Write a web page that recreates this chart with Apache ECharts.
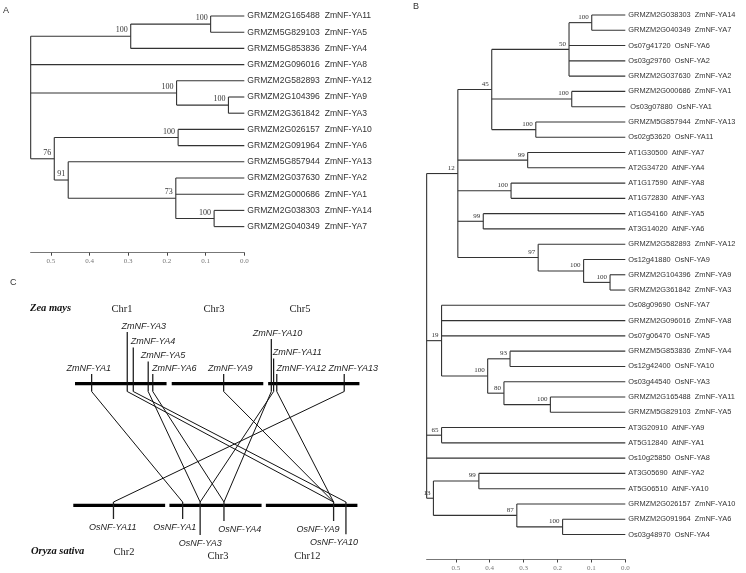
<!DOCTYPE html>
<html><head><meta charset="utf-8">
<script src="https://cdn.jsdelivr.net/npm/echarts@6/dist/echarts.min.js"></script>
<style>html,body{margin:0;padding:0;background:#fff}#c{width:746px;height:573px}</style>
</head><body><div id="c"></div>
<script>
// ---------------- DATA: Tree A (maize NF-YA) ----------------
const treeAIds = ['GRMZM2G165488','GRMZM5G829103','GRMZM5G853836','GRMZM2G096016','GRMZM2G582893','GRMZM2G104396','GRMZM2G361842','GRMZM2G026157','GRMZM2G091964','GRMZM5G857944','GRMZM2G037630','GRMZM2G000686','GRMZM2G038303','GRMZM2G040349'];
const treeANames = ['ZmNF-YA11','ZmNF-YA5','ZmNF-YA4','ZmNF-YA8','ZmNF-YA12','ZmNF-YA9','ZmNF-YA3','ZmNF-YA10','ZmNF-YA6','ZmNF-YA13','ZmNF-YA2','ZmNF-YA1','ZmNF-YA14','ZmNF-YA7'];
// internal nodes (ids continue after leaves), children listed top to bottom
const treeAChildren = [[0,1],[14,2],[5,6],[4,16],[7,8],[12,13],[10,11,19],[9,20],[18,21],[15,3,17,22]];
const treeAHeights = [0.087,0.2935,0.041,0.175,0.171,0.078,0.177,0.455,0.491,0.552];
const treeABootstrap = ['100','100','100','100','100','100','73','91','76',''];
const treeATicks = [0,0.1,0.2,0.3,0.4,0.5];

// ---------------- DATA: Tree B (maize, rice, Arabidopsis) ----------------
const treeBIds = ['GRMZM2G038303','GRMZM2G040349','Os07g41720','Os03g29760','GRMZM2G037630','GRMZM2G000686',' Os03g07880','GRMZM5G857944','Os02g53620','AT1G30500','AT2G34720','AT1G17590','AT1G72830','AT1G54160','AT3G14020','GRMZM2G582893','Os12g41880','GRMZM2G104396','GRMZM2G361842','Os08g09690','GRMZM2G096016','Os07g06470','GRMZM5G853836','Os12g42400','Os03g44540','GRMZM2G165488','GRMZM5G829103','AT3G20910','AT5G12840','Os10g25850','AT3G05690','AT5G06510','GRMZM2G026157','GRMZM2G091964','Os03g48970'];
const treeBNames = ['ZmNF-YA14','ZmNF-YA7','OsNF-YA6','OsNF-YA2','ZmNF-YA2','ZmNF-YA1','OsNF-YA1','ZmNF-YA13','OsNF-YA11','AtNF-YA7','AtNF-YA4','AtNF-YA8','AtNF-YA3','AtNF-YA5','AtNF-YA6','ZmNF-YA12','OsNF-YA9','ZmNF-YA9','ZmNF-YA3','OsNF-YA7','ZmNF-YA8','OsNF-YA5','ZmNF-YA4','OsNF-YA10','OsNF-YA3','ZmNF-YA11','ZmNF-YA5','AtNF-YA9','AtNF-YA1','OsNF-YA8','AtNF-YA2','AtNF-YA10','ZmNF-YA10','ZmNF-YA6','OsNF-YA4'];
const treeBChildren = [[0,1],[35,2,3,4],[5,6],[7,8],[36,37,38],[9,10],[11,12],[13,14],[17,18],[16,43],[15,44],[39,40,41,42,45],[22,23],[25,26],[24,48],[47,49],[19,20,21,50],[27,28],[30,31],[33,34],[32,54],[53,55],[46,51,52,29,56]];
const treeBHeights = [0.099,0.166,0.158,0.264,0.394,0.288,0.337,0.419,0.045,0.123,0.257,0.494,0.340,0.221,0.358,0.406,0.542,0.542,0.432,0.185,0.320,0.566,0.586];
const treeBBootstrap = ['100','50','100','100','45','99','100','99','100','100','97','12','93','100','80','100','19','65','99','100','87','13',''];
const treeBTicks = [0,0.1,0.2,0.3,0.4,0.5];

// ---------------- DATA: Panel C (synteny) ----------------
const zmChromNames = ['Chr1','Chr3','Chr5'];
const zmChromStart = [0.7,34.4,68.0];
const zmChromEnd = [32.6,66.3,99.8];
const osChromNames = ['Chr2','Chr3','Chr12'];
const osChromStart = [0.1,33.6,67.2];
const osChromEnd = [32.1,65.7,99.1];
const zmGenes = ['ZmNF-YA1','ZmNF-YA3','ZmNF-YA4','ZmNF-YA5','ZmNF-YA6','ZmNF-YA9','ZmNF-YA10','ZmNF-YA11','ZmNF-YA12','ZmNF-YA13'];
const zmGenePos = [6.5,18.9,21.0,26.2,27.8,52.5,69.1,69.9,71.0,94.5];
const osGenes = ['OsNF-YA11','OsNF-YA1','OsNF-YA3','OsNF-YA4','OsNF-YA9','OsNF-YA10'];
const osGenePos = [14.1,38.2,44.3,52.6,90.8,95.1];
const syntenyZm = ['ZmNF-YA1','ZmNF-YA3','ZmNF-YA4','ZmNF-YA5','ZmNF-YA6','ZmNF-YA9','ZmNF-YA10','ZmNF-YA11','ZmNF-YA12','ZmNF-YA13'];
const syntenyOs = ['OsNF-YA1','OsNF-YA9','OsNF-YA10','OsNF-YA3','OsNF-YA4','OsNF-YA9','OsNF-YA4','OsNF-YA3','OsNF-YA9','OsNF-YA11'];

// ---------------- LAYOUT (pixels) ----------------
const LA = {tipX:244.3, pxPerUnit:387, xMax:0.552, leaf0Y:16, leafStep:16.2, axisY:252.7, top:6, font:8.6, bsFont:8, gap:'  '};
const LB = {tipX:625.3, pxPerUnit:339, xMax:0.586, leaf0Y:15, leafStep:15.28, axisY:559.5, top:5, font:7.4, bsFont:7, gap:'  '};
const LC = {left:73, width:287, topBar:383.7, botBar:505.3};
const zmLabelRise = [15.7,57.7,42.2,28.2,15.7,15.7,50.7,31.2,15.7,15.7];
const zmLabelShift = [-3,16.4,19.7,14.7,21.5,6.5,6.3,23.6,24.6,9];
const osLabelDrop = [21.7,21.7,37.7,23.7,23.7,37];
const osLabelShift = [-0.7,-8,0,15.7,-15.5,-12];
const zmChromLabelX = [17.1,49.1,79.1];
const osChromLabelX = [17.8,50.5,81.7];
const zmChromLabelRise = 74.7;
const osChromLabelDrop = [46.7,50.5,50.5];

const SANS = 'Liberation Sans, Arial, sans-serif';
const SERIF = 'Liberation Serif, Times New Roman, serif';

function buildTree(nLeaves, children, heights){
  const X = [], Y = [];
  for (let i=0;i<nLeaves;i++){X[i]=0;Y[i]=i;}
  const segs = [];
  children.forEach((ch,k)=>{
    const id = nLeaves+k, h = heights[k];
    const y0 = Y[ch[0]], y1 = Y[ch[ch.length-1]];
    X[id]=h; Y[id]=(y0+y1)/2;
    segs.push([h,y0,h,y1]);
    ch.forEach(c=>segs.push([h,Y[c],X[c],Y[c]]));
  });
  return {X,Y,segs};
}

function treeGrid(L){
  const w = L.pxPerUnit*L.xMax;
  return {left:L.tipX-w, width:w, top:L.top, height:L.axisY-L.top, outerBoundsMode:'none', containLabel:false};
}
function treeXAxis(L, gi, ticks){
  return {gridIndex:gi, type:'value', inverse:true, min:0, max:L.xMax, position:'bottom',
    axisLine:{show:true, onZero:false, lineStyle:{color:'#777', width:1.2}},
    axisTick:{show:true, customValues:ticks, length:3, lineStyle:{color:'#444', width:1}},
    axisLabel:{show:true, customValues:ticks, formatter:v=>v.toFixed(1), margin:5, fontSize:7, fontFamily:SERIF, color:'#777'},
    splitLine:{show:false}};
}
function treeYAxis(L, gi){
  return {gridIndex:gi, type:'value', inverse:true, show:false,
    min:(L.top-L.leaf0Y)/L.leafStep, max:(L.axisY-L.leaf0Y)/L.leafStep};
}
function treeSeries(L, gi, ids, names, children, heights, boots){
  const t = buildTree(ids.length, children, heights);
  const n = ids.length;
  return [
    {type:'custom', xAxisIndex:gi, yAxisIndex:gi, silent:true, data:t.segs, encode:{x:[0,2],y:[1,3]},
     renderItem:(p,api)=>{
       const a = api.coord([api.value(0),api.value(1)]), b = api.coord([api.value(2),api.value(3)]);
       return {type:'line', shape:{x1:a[0],y1:a[1],x2:b[0],y2:b[1]}, style:{stroke:'#333', lineWidth:1.1}};
     }},
    {type:'custom', xAxisIndex:gi, yAxisIndex:gi, silent:true, data:ids.map((_,i)=>[0,i]), encode:{x:0,y:1},
     renderItem:(p,api)=>{
       const a = api.coord([api.value(0),api.value(1)]);
       return {type:'text', x:a[0]+3, y:a[1], style:{text:ids[p.dataIndex]+L.gap+names[p.dataIndex], fill:'#333',
         font:L.font+'px '+SANS, textAlign:'left', textVerticalAlign:'middle', align:'left', verticalAlign:'middle'}};
     }},
    {type:'custom', xAxisIndex:gi, yAxisIndex:gi, silent:true, data:children.map((_,k)=>[t.X[n+k],t.Y[n+k]]), encode:{x:0,y:1},
     renderItem:(p,api)=>{
       const a = api.coord([api.value(0),api.value(1)]);
       return {type:'text', x:a[0]-3, y:a[1]-2, style:{text:boots[p.dataIndex], fill:'#333',
         font:L.bsFont+'px '+SERIF, textAlign:'right', textVerticalAlign:'bottom', align:'right', verticalAlign:'bottom'}};
     }}
  ];
}

// Panel C series
function cSeries(gi){
  const bars = [];
  zmChromStart.forEach((s,i)=>bars.push([s,zmChromEnd[i],1]));
  osChromStart.forEach((s,i)=>bars.push([s,osChromEnd[i],0]));
  const links = syntenyZm.map((z,i)=>[zmGenePos[zmGenes.indexOf(z)], osGenePos[osGenes.indexOf(syntenyOs[i])]]);
  const textStyle = (txt, font, align)=>({text:txt, fill:'#222', font:font, textAlign:align, textVerticalAlign:'middle', align:align, verticalAlign:'middle'});
  return [
    {type:'custom', xAxisIndex:gi, yAxisIndex:gi, silent:true, data:links, encode:{x:[0,1]},
     renderItem:(p,api)=>{
       const a = api.coord([api.value(0),1]), b = api.coord([api.value(1),0]);
       return {type:'line', shape:{x1:a[0],y1:a[1]+7.8,x2:b[0],y2:b[1]-3.3}, style:{stroke:'#111', lineWidth:1}};
     }},
    {type:'custom', xAxisIndex:gi, yAxisIndex:gi, silent:true, data:bars, encode:{x:[0,1],y:2},
     renderItem:(p,api)=>{
       const a = api.coord([api.value(0),api.value(2)]), b = api.coord([api.value(1),api.value(2)]);
       return {type:'line', shape:{x1:a[0],y1:a[1],x2:b[0],y2:b[1]}, style:{stroke:'#000', lineWidth:3.2}};
     }},
    {type:'custom', xAxisIndex:gi, yAxisIndex:gi, silent:true, data:zmGenePos.map(v=>[v,1]), encode:{x:0,y:1},
     renderItem:(p,api)=>{
       const i = p.dataIndex, a = api.coord([api.value(0),api.value(1)]);
       const ly = a[1]-zmLabelRise[i];
       return {type:'group', children:[
         {type:'line', shape:{x1:a[0],y1:ly+6,x2:a[0],y2:a[1]+7.8}, style:{stroke:'#111', lineWidth:1.2}},
         {type:'text', x:a[0]+zmLabelShift[i], y:ly, style:textStyle(zmGenes[i], 'italic 9px '+SANS, 'center')}
       ]};
     }},
    {type:'custom', xAxisIndex:gi, yAxisIndex:gi, silent:true, data:osGenePos.map(v=>[v,0]), encode:{x:0,y:1},
     renderItem:(p,api)=>{
       const i = p.dataIndex, a = api.coord([api.value(0),api.value(1)]);
       const ly = a[1]+osLabelDrop[i];
       return {type:'group', children:[
         {type:'line', shape:{x1:a[0],y1:a[1]-3.3,x2:a[0],y2:ly-8}, style:{stroke:'#222', lineWidth:1.3}},
         {type:'text', x:a[0]+osLabelShift[i], y:ly, style:textStyle(osGenes[i], 'italic 9px '+SANS, 'center')}
       ]};
     }},
    {type:'custom', xAxisIndex:gi, yAxisIndex:gi, silent:true,
     data:zmChromLabelX.map(v=>[v,1]).concat(osChromLabelX.map(v=>[v,0])), encode:{x:0,y:1},
     renderItem:(p,api)=>{
       const i = p.dataIndex, top = i<zmChromNames.length, a = api.coord([api.value(0),api.value(1)]);
       const j = top ? i : i-zmChromNames.length;
       const name = top ? zmChromNames[j] : osChromNames[j];
       const y = top ? a[1]-zmChromLabelRise : a[1]+osChromLabelDrop[j];
       return {type:'text', x:a[0], y:y, style:textStyle(name, '10.5px '+SERIF, 'center')};
     }}
  ];
}

const chart = echarts.init(document.getElementById('c'), null, {renderer:'canvas'});
chart.setOption({
  animation:false,
  backgroundColor:'#fff',
  grid:[treeGrid(LA), treeGrid(LB),
        {left:LC.left, width:LC.width, top:LC.topBar, height:LC.botBar-LC.topBar, outerBoundsMode:'none', containLabel:false}],
  xAxis:[treeXAxis(LA,0,treeATicks), treeXAxis(LB,1,treeBTicks),
         {gridIndex:2, type:'value', min:0, max:100, show:false}],
  yAxis:[treeYAxis(LA,0), treeYAxis(LB,1),
         {gridIndex:2, type:'value', min:0, max:1, show:false}],
  graphic:[
    {type:'text', left:3, top:6, style:{text:'A', font:'9px '+SANS, fill:'#333'}},
    {type:'text', left:413, top:2, style:{text:'B', font:'9px '+SANS, fill:'#333'}},
    {type:'text', left:10, top:278, style:{text:'C', font:'9px '+SANS, fill:'#333'}},
    {type:'text', left:30, top:303, style:{text:'Zea mays', font:'italic bold 10.5px '+SERIF, fill:'#111'}},
    {type:'text', left:31, top:546, style:{text:'Oryza sativa', font:'italic bold 10.5px '+SERIF, fill:'#111'}}
  ],
  series:[].concat(
    treeSeries(LA,0,treeAIds,treeANames,treeAChildren,treeAHeights,treeABootstrap),
    treeSeries(LB,1,treeBIds,treeBNames,treeBChildren,treeBHeights,treeBBootstrap),
    cSeries(2)
  )
});
</script></body></html>
